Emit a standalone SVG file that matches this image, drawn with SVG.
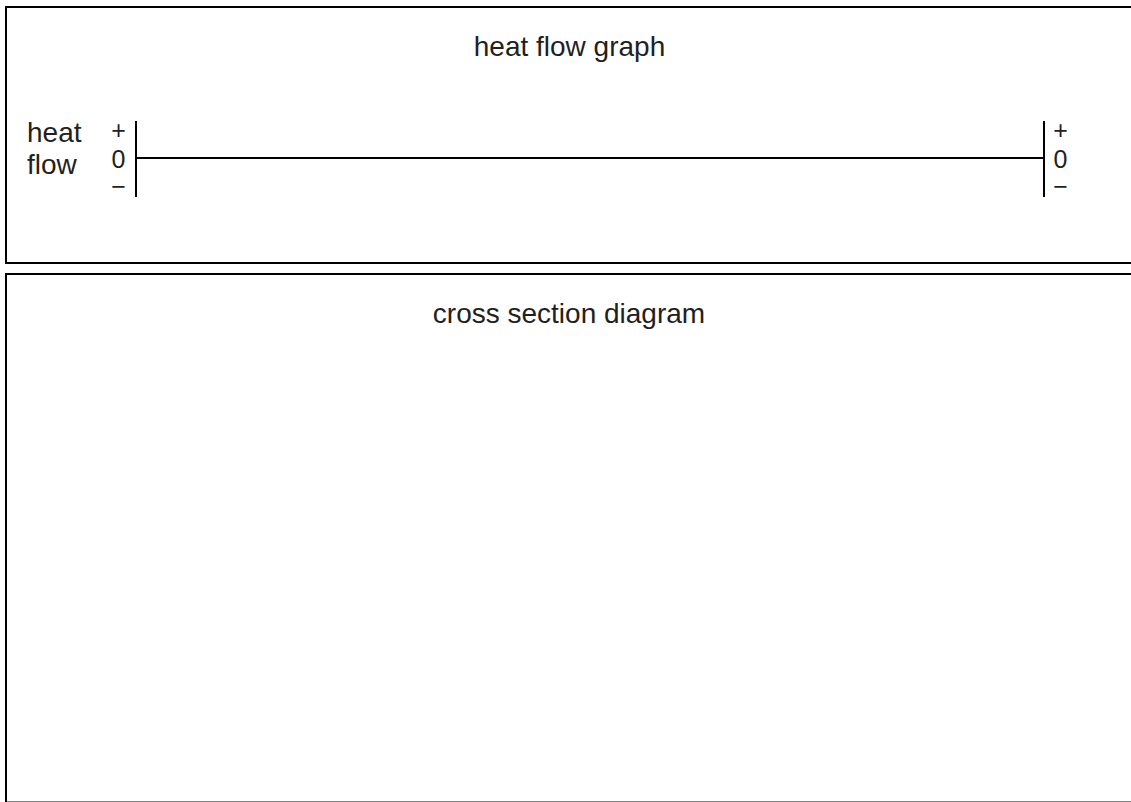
<svg xmlns="http://www.w3.org/2000/svg" width="1131" height="802" viewBox="0 0 1131 802">
<style>
.frame{fill:none;stroke:#000;stroke-width:2}
.ln{stroke:#000;stroke-width:2;fill:none}
text{font-family:"Liberation Sans",Arial,sans-serif;font-size:28px;fill:#231f20}
.c{text-anchor:middle}
.s{font-size:25px}
</style>
<rect width="1131" height="802" fill="#fff"/>
<g id="heat-flow-panel">
<rect class="frame" x="6" y="7" width="1200" height="256"/>
<text class="c" x="569.5" y="56">heat flow graph</text>
</g>
<g id="axis-label">
<text x="27" y="142"><tspan x="27" y="142">heat</tspan><tspan x="27" y="174">flow</tspan></text>
</g>
<g id="left-scale">
<line class="ln" x1="136" y1="121" x2="136" y2="197"/>
<text class="c s" x="118.5" y="139">+</text>
<text class="c s" x="118.5" y="167.5">0</text>
<text class="c s" x="118.5" y="195">−</text>
</g>
<g id="right-scale">
<line class="ln" x1="1044" y1="121" x2="1044" y2="197"/>
<text class="c s" x="1060.5" y="139">+</text>
<text class="c s" x="1060.5" y="167.5">0</text>
<text class="c s" x="1060.5" y="195">−</text>
</g>
<g id="connectors">
<line class="ln" x1="136" y1="158" x2="1044" y2="158"/>
</g>
<g id="cross-section-panel">
<rect class="frame" x="6" y="274" width="1200" height="528.5"/>
<text class="c" x="569" y="323">cross section diagram</text>
</g>
</svg>
